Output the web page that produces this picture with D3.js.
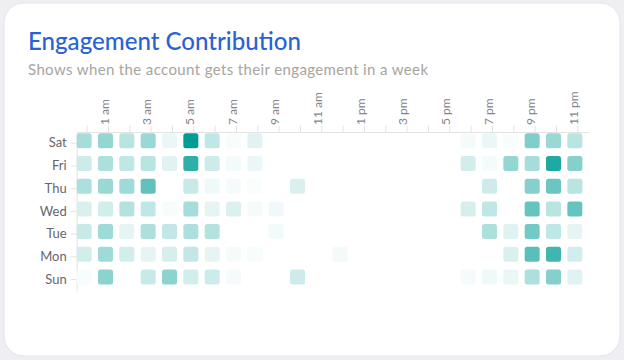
<!DOCTYPE html>
<html>
<head>
<meta charset="utf-8">
<script src="https://cdn.jsdelivr.net/npm/d3@7"></script>
<style>
  html, body { margin: 0; padding: 0; background: #efeff3; }
  svg { display: block; }
  text { font-family: Lato, "Open Sans", sans-serif; }
</style>
</head>
<body>
<svg id="chart" width="624" height="360"></svg>
<script>
// ---- data ----
const days = ["Sat", "Fri", "Thu", "Wed", "Tue", "Mon", "Sun"];
const hours = ["12 am","1 am","2 am","3 am","4 am","5 am","6 am","7 am","8 am","9 am","10 am","11 am",
               "12 pm","1 pm","2 pm","3 pm","4 pm","5 pm","6 pm","7 pm","8 pm","9 pm","10 pm","11 pm"];
const satValues = [35,42,28,40,8,100,25,3,12,0,0,0,0,0,0,0,0,0,4,8,3,50,40,28];
const friValues = [20,32,25,28,12,82,20,5,8,0,0,0,0,0,0,0,0,0,18,4,42,35,88,48];
const thuValues = [32,40,38,62,0,22,6,4,2,0,15,0,0,0,0,0,0,0,0,20,0,48,58,28];
const wedValues = [15,18,30,25,3,35,10,14,4,6,0,0,0,0,0,0,0,0,16,25,0,60,28,60];
const tueValues = [22,38,10,32,24,32,30,0,0,5,0,0,0,0,0,0,0,0,0,32,12,55,25,10];
const monValues = [18,38,18,10,16,24,10,4,3,0,0,0,5,0,0,0,0,0,0,0,15,65,75,18];
const sunValues = [3,45,0,22,45,18,20,4,0,0,20,0,0,0,0,0,0,0,4,6,8,32,48,12];
const seriesValues = [satValues, friValues, thuValues, wedValues, tueValues, monValues, sunValues];
const titleText = "Engagement Contribution";
const subtitleText = "Shows when the account gets their engagement in a week";

// ---- build ----
const svg = d3.select("#chart");
svg.append("rect").attr("x", 4).attr("y", 3).attr("width", 616).attr("height", 353)
  .attr("rx", 20).attr("fill", "#ffffff").attr("stroke", "#e4e4ea").attr("stroke-width", 1);

function fitText(sel, target) {
  const w = sel.node().getComputedTextLength();
  const fs = parseFloat(sel.attr("font-size"));
  sel.attr("font-size", (fs * target / w).toFixed(2));
}
const title = svg.append("text").attr("x", 28).attr("y", 50)
  .attr("font-size", 22).attr("font-weight", 500).attr("fill", "#2a62d6").text(titleText);
fitText(title, 273);
const sub = svg.append("text").attr("x", 28).attr("y", 75)
  .attr("font-size", 15).attr("font-weight", 400).attr("fill", "#a8a4a0")
  .attr("textLength", 400).attr("lengthAdjust", "spacing").text(subtitleText);

const x = d3.scaleBand().domain(hours).range([73.5, 585.5]);
const y = d3.scaleBand().domain(days).range([129.45, 288.35]);
const cell = 15;

const cells = [];
days.forEach((d, i) => hours.forEach((h, j) => cells.push({day: d, hour: h, v: seriesValues[i][j]})));
const color = d3.scaleLinear().domain([0, 100]).range(["#ffffff", "#009d95"]).interpolate(d3.interpolateRgb);

// axes (offset like the reference)
const gx = svg.append("g").attr("transform", "translate(3,132)")
  .call(d3.axisTop(x).tickSize(6).tickSizeOuter(0).tickFormat(""));
gx.select(".domain").attr("stroke", "#e3e3e3");
gx.selectAll(".tick line").attr("stroke", "#e3e3e3");

const gy = svg.append("g").attr("transform", "translate(76.7,2.5)")
  .call(d3.axisLeft(y).tickSize(6).tickSizeOuter(0).tickPadding(4));
gy.select(".domain").attr("stroke", "#e3e3e3");
gy.selectAll(".tick line").attr("stroke", "#e3e3e3");
gy.selectAll(".tick text").attr("font-size", 13).attr("fill", "#66666e")
  .attr("font-family", "Lato, sans-serif");

// rotated hour labels (every other)
svg.append("g").selectAll("text")
  .data(hours.filter((h, i) => i % 2 === 1))
  .join("text")
  .attr("transform", h => `translate(${x(h) + x.bandwidth() / 2 - 1},125) rotate(-90)`)
  .attr("dy", "0.35em")
  .attr("text-anchor", "start")
  .attr("font-size", 12).attr("fill", "#85858c")
  .text(h => h);

// cells
svg.append("g").selectAll("rect")
  .data(cells.filter(c => c.v > 0))
  .join("rect")
  .attr("x", c => x(c.hour) + (x.bandwidth() - cell) / 2)
  .attr("y", c => y(c.day) + (y.bandwidth() - cell) / 2)
  .attr("width", cell).attr("height", cell)
  .attr("rx", 2.5)
  .attr("fill", c => color(c.v));
</script>
</body>
</html>
